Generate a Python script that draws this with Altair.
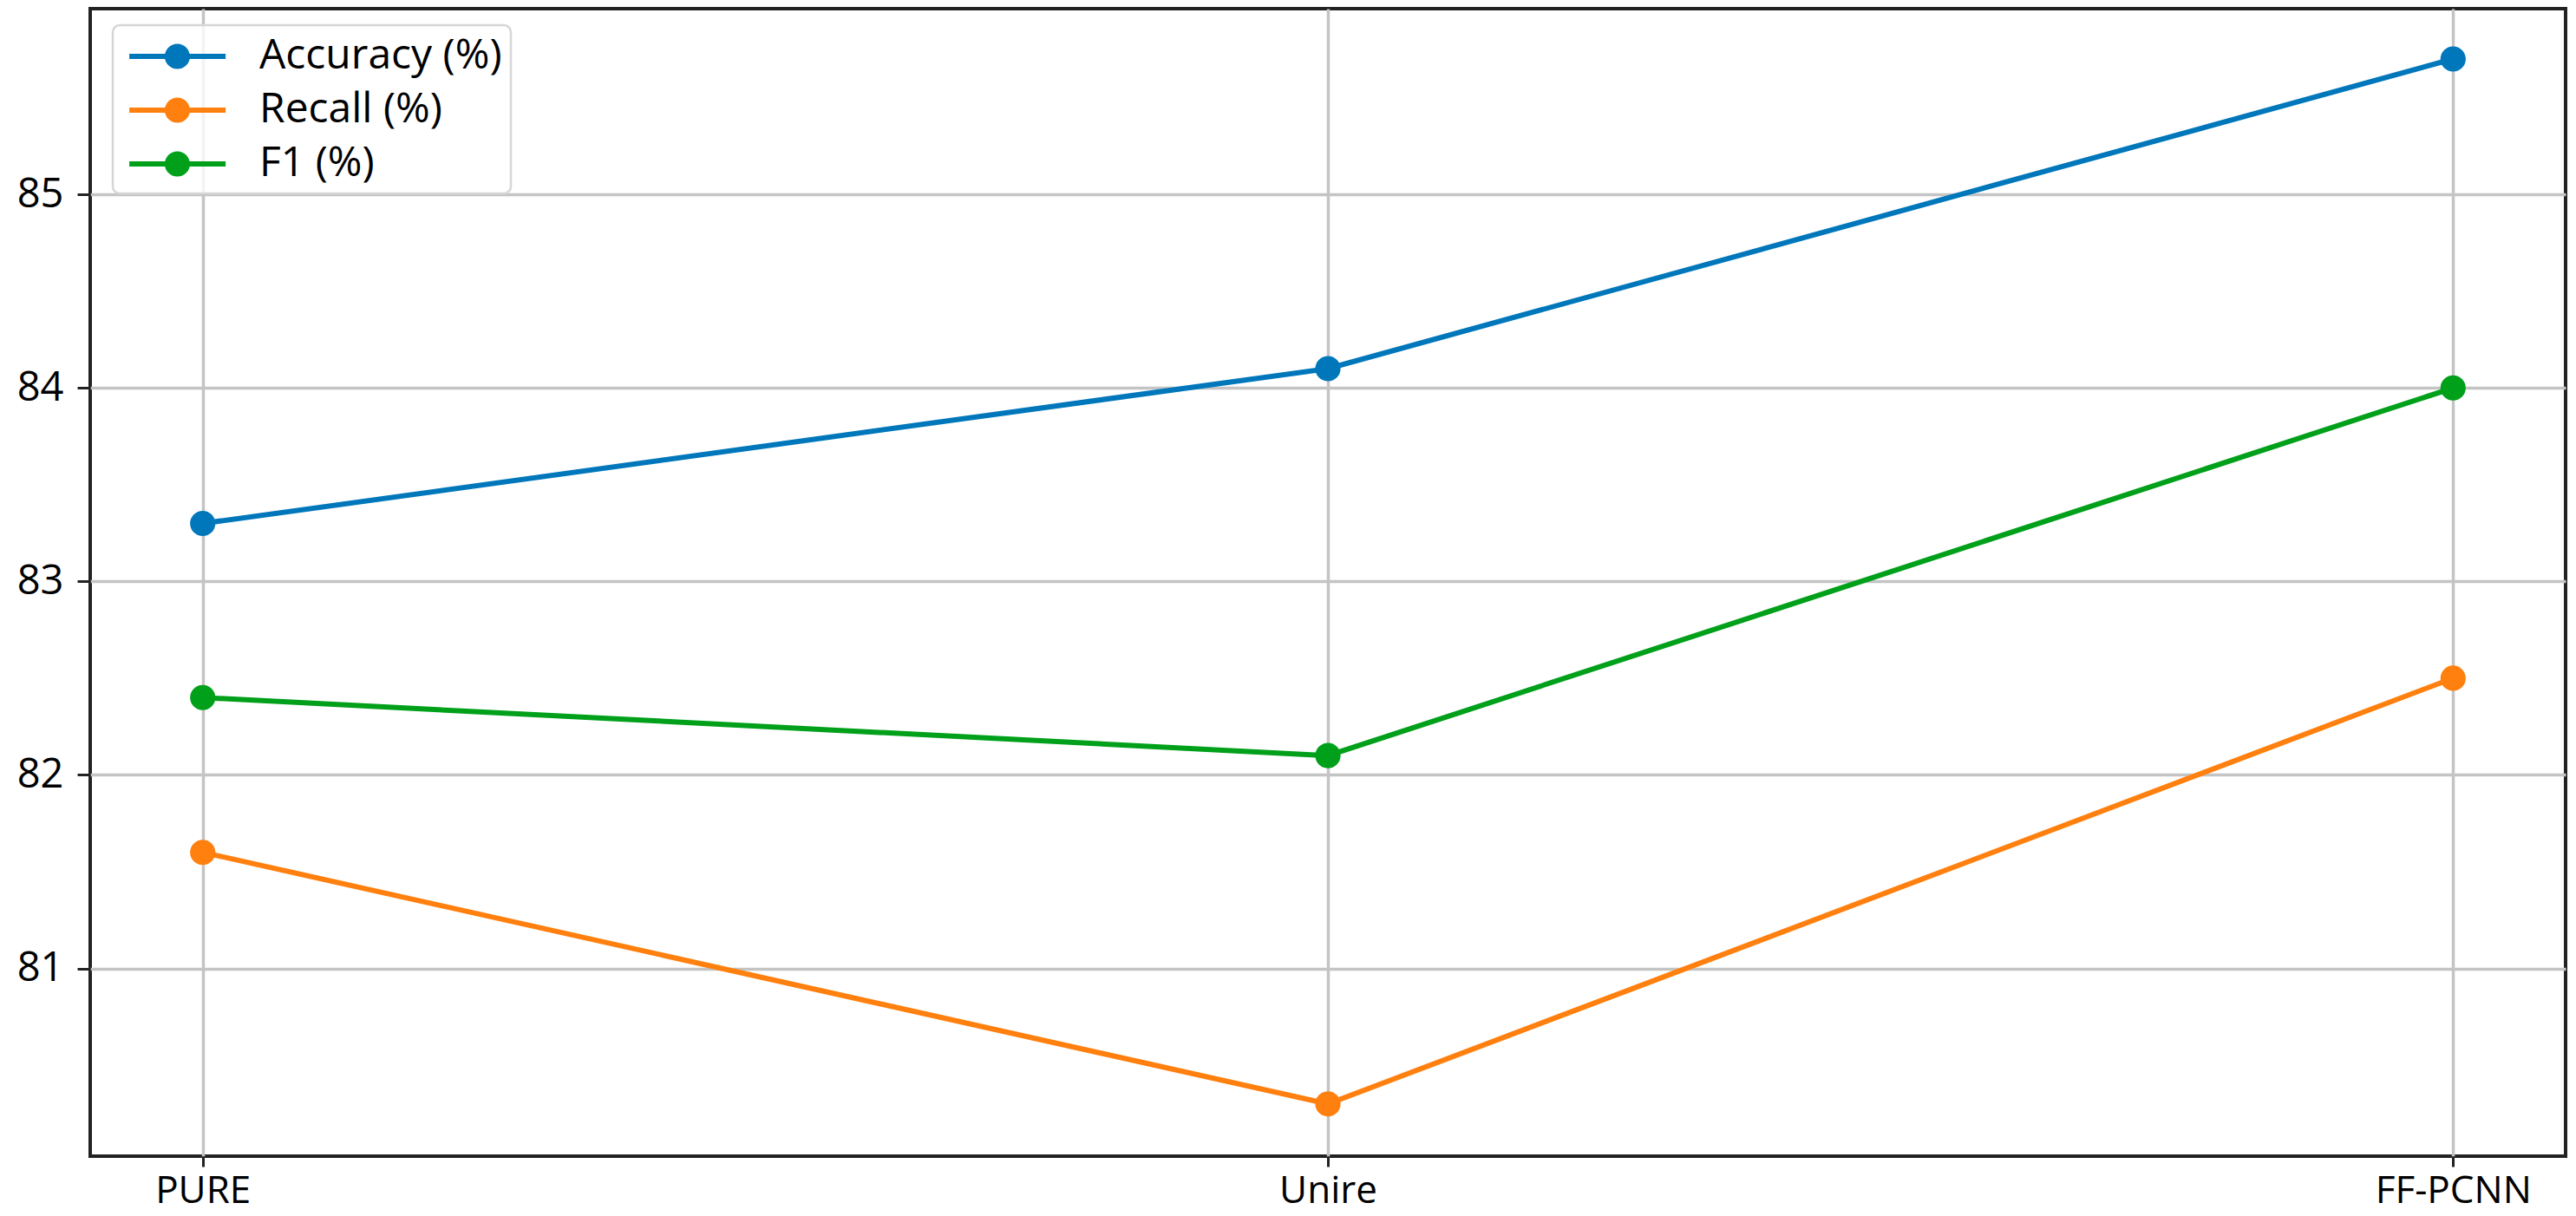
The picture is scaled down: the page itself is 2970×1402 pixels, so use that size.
import altair as alt
import pandas as pd

models = ["PURE", "Unire", "FF-PCNN"]
series_names = ["Accuracy (%)", "Recall (%)", "F1 (%)"]
accuracy = [83.3, 84.1, 85.7]
recall = [81.6, 80.3, 82.5]
f1 = [82.4, 82.1, 84.0]
y_ticks = [81, 82, 83, 84, 85]
colors = ["#0077bb", "#ff800e", "#00a01a"]

rows = []
for name, vals in zip(series_names, [accuracy, recall, f1]):
    for m, v in zip(models, vals):
        rows.append({"model": m, "series": name, "value": v})
df = pd.DataFrame(rows)

FONT = "Open Sans"

x_enc = alt.X("model:N", sort=models, title=None,
              scale=alt.Scale(type="point", padding=0.1),
              axis=alt.Axis(labelAngle=0, labelFontSize=44, labelFont=FONT,
                            labelColor="#000000", labelPadding=6, labelLimit=1000,
                            tickSize=12, tickWidth=3, tickColor="#222222",
                            domain=False, grid=True, gridColor="#c4c4c4",
                            gridWidth=3.5))
y_enc = alt.Y("value:Q", title=None,
              scale=alt.Scale(domain=[80.03, 85.96], nice=False, zero=False),
              axis=alt.Axis(values=y_ticks, labelFontSize=47, labelFont=FONT,
                            labelColor="#000000", labelPadding=16, labelLimit=1000,
                            tickSize=15, tickWidth=3, tickColor="#222222",
                            domain=False, grid=True, gridColor="#c4c4c4",
                            gridWidth=3.5))
color_scale = alt.Scale(domain=series_names, range=colors)

symbol_path = ("M -0.65 -0.115 L 3.62 -0.115 L 3.62 0.115 L -0.65 0.115 Z "
               "M 2.04 0 A 0.56 0.56 0 1 1 0.92 0 A 0.56 0.56 0 1 1 2.04 0 Z")

legend = alt.Legend(title=None, orient="none", legendX=26, legendY=19,
                    symbolType=symbol_path, symbolSize=2704,
                    symbolStrokeWidth=0, symbolOpacity=1,
                    labelFontSize=48, labelFont=FONT, labelLimit=1000,
                    labelColor="#000000", labelOffset=107,
                    rowPadding=12, padding=10,
                    fillColor="rgba(255,255,255,0.8)",
                    strokeColor="#d6d6d6", cornerRadius=8)

color_enc = alt.Color("series:N", scale=color_scale, sort=series_names, legend=legend)

lines = alt.Chart(df).mark_line(strokeWidth=6).encode(
    x=x_enc, y=y_enc, color=color_enc,
)
points = alt.Chart(df).mark_point(filled=True, size=850, opacity=1).encode(
    x=x_enc, y=y_enc, color=color_enc,
)

chart = alt.layer(lines, points).properties(
    width=2854, height=1323,
    autosize=alt.AutoSizeParams(type="none"),
    padding={"left": 96, "top": 2, "right": 4, "bottom": 68},
).configure_view(stroke="#222222", strokeWidth=4).configure_legend(
    strokeWidth=2.5
)

chart.save("out.html", embed_options={"renderer": "svg", "actions": False})
